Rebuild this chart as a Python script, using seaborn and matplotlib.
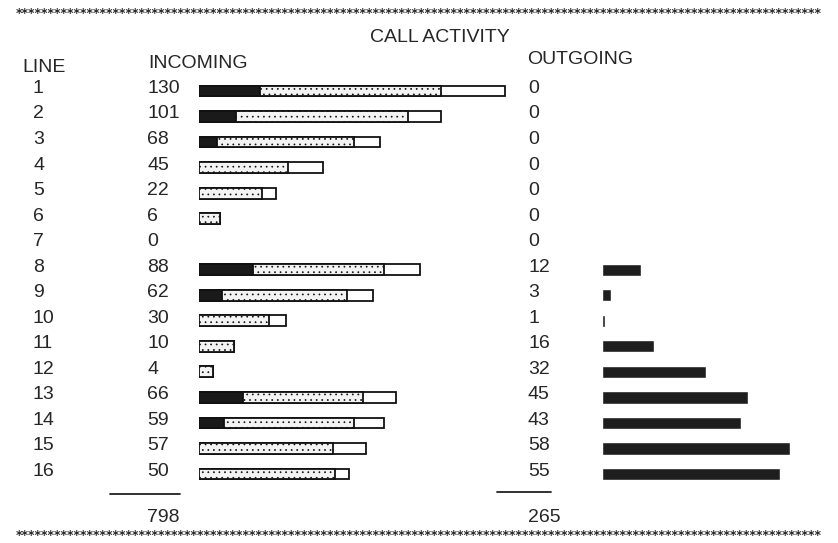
import matplotlib
matplotlib.use("Agg")
import pandas as pd
import matplotlib.pyplot as plt
import seaborn as sns
from matplotlib.lines import Line2D
from matplotlib.transforms import blended_transform_factory

# values
lines = [str(i) for i in range(1, 17)]
incoming_total = [130, 101, 68, 45, 22, 6, 0, 88, 62, 30, 10, 4, 66, 59, 57, 50]
outgoing_total = [0, 0, 0, 0, 0, 0, 0, 12, 3, 1, 16, 32, 45, 43, 58, 55]
# incoming bar split into three parts (black / dotted / white), in bar units
seg_black = [26, 16, 8, 0, 0, 0, 0, 23, 10, 0, 0, 0, 19, 11, 0, 0]
seg_dotted = [77, 73, 58, 38, 27, 9, 0, 56, 53, 30, 15, 6, 51, 55, 57, 58]
seg_white = [27, 14, 11, 15, 6, 0, 0, 15, 11, 7, 0, 0, 14, 13, 14, 6]

sns.set_style("white")
plt.rcParams['font.family'] = ['Liberation Sans Narrow', 'Liberation Sans', 'DejaVu Sans']
plt.rcParams['hatch.linewidth'] = 0.5

W, H = 838, 543
fig = plt.figure(figsize=(W / 100, H / 100), dpi=100)


def box(x0, top, w, h):
    # pixel box -> figure fraction
    return [x0 / W, 1 - (top + h) / H, w / W, h / H]


ax_in = fig.add_axes(box(198.5, 78.25, 140 * 2.354, 408.5))
ax_out = fig.add_axes(box(601.7, 78.25, 70 * 3.25, 408.5))

df = pd.DataFrame({"line": lines, "black": seg_black, "dotted": seg_dotted,
                   "white": seg_white, "incoming": incoming_total,
                   "outgoing": outgoing_total})
df["upto_dotted"] = df["black"] + df["dotted"]
df["upto_white"] = df["upto_dotted"] + df["white"]

# draw longest first, shorter parts on top -> stacked look
layers = [("upto_white", "white", None),
          ("upto_dotted", "#f3f3f3", "..."),
          ("black", "#1a1a1a", None)]
for col, fc, hatch in layers:
    sub = df[df[col] > 0]
    sns.barplot(data=sub, x=col, y="line", order=lines, orient="h",
                color=fc, saturation=1, edgecolor="#111111", linewidth=1.3,
                width=0.42, hatch=hatch, ax=ax_in)

sub = df[df["outgoing"] > 0]
sns.barplot(data=sub, x="outgoing", y="line", order=lines, orient="h",
            color="#1e1e1e", saturation=1, width=0.48, ax=ax_out)

for ax, xmax in [(ax_in, 140), (ax_out, 70)]:
    ax.set_xlim(0, xmax)
    ax.set_ylim(15.5, -0.5)
    ax.set_xticks([])
    ax.set_yticks([])
    ax.set_xlabel("")
    ax.set_ylabel("")
    sns.despine(ax=ax, left=True, bottom=True)
    ax.patch.set_alpha(0)

fs = 14
tr = blended_transform_factory(fig.transFigure, ax_in.transData)
for i in range(len(lines)):
    y = i - 0.1
    ax_in.text(33 / W, y, lines[i], transform=tr, ha="left", va="center", fontsize=fs)
    ax_in.text(147 / W, y, str(incoming_total[i]), transform=tr, ha="left", va="center", fontsize=fs)
    ax_in.text(528 / W, y, str(outgoing_total[i]), transform=tr, ha="left", va="center", fontsize=fs)

fig.text(440 / W, 1 - 38 / H, "CALL ACTIVITY", ha="center", va="center", fontsize=fs)
fig.text(22 / W, 1 - 67 / H, "LINE", ha="left", va="center", fontsize=fs)
fig.text(148 / W, 1 - 63 / H, "INCOMING", ha="left", va="center", fontsize=fs)
fig.text(527 / W, 1 - 60 / H, "OUTGOING", ha="left", va="center", fontsize=fs)

# totals with rule above
fig.add_artist(Line2D([110 / W, 180 / W], [1 - 494 / H] * 2, color="#222222", lw=1.3))
fig.add_artist(Line2D([497 / W, 551 / W], [1 - 492 / H] * 2, color="#222222", lw=1.3))
fig.text(147 / W, 1 - 518 / H, str(sum(incoming_total)), ha="left", va="center", fontsize=fs)
fig.text(528 / W, 1 - 517 / H, str(sum(outgoing_total)), ha="left", va="center", fontsize=fs)

# asterisk borders
stars = "*" * 124
for ypix in (14, 536):
    fig.text(0.5, 1 - ypix / H, stars, ha="center", va="center", fontsize=9,
             family="DejaVu Sans", weight="bold")

fig.savefig("out.png", dpi=100)
